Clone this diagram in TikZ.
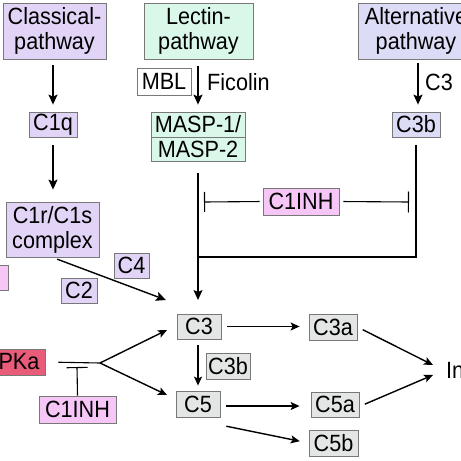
\documentclass[tikz,border=0pt]{standalone}
\usepackage{fontspec}
\setmainfont[FakeStretch=0.92]{Liberation Sans}
\usetikzlibrary{arrows.meta}
\definecolor{lav}{RGB}{226,212,246}
\definecolor{lgreen}{RGB}{218,248,234}
\definecolor{lblue}{RGB}{220,220,246}
\definecolor{lgray}{RGB}{228,230,230}
\definecolor{lpink}{RGB}{246,198,246}
\definecolor{pka}{RGB}{232,92,122}
\definecolor{bord}{RGB}{120,120,120}
\tikzset{
  box/.style={draw=bord, line width=0.8pt, inner sep=0pt, font=\fontsize{23.5}{25}\selectfont, align=center},
  lab/.style={inner sep=0pt, font=\fontsize{23.5}{25}\selectfont},
  arr/.style={line width=1.4pt, -{Stealth[length=10pt,width=9pt,inset=2pt]}},
  arrs/.style={line width=1.4pt, -{Stealth[length=9pt,width=8pt,inset=2pt]}},
  pl/.style={line width=1.1pt},
}
\begin{document}
\begin{tikzpicture}[x=1pt,y=-1pt]
\useasboundingbox (0,0) rectangle (461,461);
\clip (0,0) rectangle (461,461);
\fill[white] (0,0) rectangle (461,461);
% top pathways
\node[box, fill=lav, minimum width=103pt, minimum height=56pt] (classical) at (54.5,31) {Classical-\\pathway};
\node[box, fill=lgreen, minimum width=109pt, minimum height=56pt] (lectin) at (198.5,31) {Lectin-\\pathway};
\node[box, fill=lblue, minimum width=116pt, minimum height=56pt] (alt) at (416,31) {Alternative\\pathway};
\node[box, fill=white, minimum width=54pt, minimum height=27pt] (mbl) at (164,81.5) {MBL};
\node[lab, anchor=west] (ficolin) at (207,82) {Ficolin};
\node[lab, anchor=west] (c3lab) at (425,82) {C3};
\node[box, fill=lav, minimum width=48pt, minimum height=25pt] (c1q) at (53,124.5) {C1q};
\node[box, fill=lgreen, minimum width=94pt, minimum height=25pt] (masp1) at (198,124.5) {MASP-1/};
\node[box, fill=lgreen, minimum width=94pt, minimum height=24pt] (masp2) at (198,149) {MASP-2};
\node[box, fill=lblue, minimum width=48pt, minimum height=25pt] (c3bA) at (416,124.5) {C3b};
\node[box, fill=lav, minimum width=93pt, minimum height=55pt] (c1r) at (52.5,229.5) {C1r/C1s\\complex};
\node[box, fill=lpink, minimum width=58pt, minimum height=25pt] (cut) at (-21,277.5) {};
\node[box, fill=lpink, minimum width=76pt, minimum height=27pt] (c1inhA) at (301,201.5) {C1INH};
\node[box, fill=lav, minimum width=35pt, minimum height=25pt] (c4) at (131.5,265.5) {C4};
\node[box, fill=lav, minimum width=36pt, minimum height=25pt] (c2) at (79,290.5) {C2};
% lower cascade
\node[box, fill=lgray, minimum width=44pt, minimum height=25pt] (c3) at (199,326.5) {C3};
\node[box, fill=lgray, minimum width=44pt, minimum height=26pt] (c3bB) at (228,366) {C3b};
\node[box, fill=lgray, minimum width=44pt, minimum height=26pt] (c5) at (198,404) {C5};
\node[box, fill=pka, minimum width=52pt, minimum height=26pt] (pka) at (19,362) {PKa};
\node[box, fill=lpink, minimum width=77pt, minimum height=27pt] (c1inhB) at (77.5,409.5) {C1INH};
\node[box, fill=lgray, minimum width=48pt, minimum height=26pt] (c3a) at (333,327) {C3a};
\node[box, fill=lgray, minimum width=48pt, minimum height=25pt] (c5a) at (335,404.5) {C5a};
\node[box, fill=lgray, minimum width=49pt, minimum height=26pt] (c5b) at (333.5,443) {C5b};
\node[lab, anchor=west] (infl) at (446,370) {In};
% coordinates
\coordinate (j1) at (166,300);
\coordinate (j2) at (198,300);
\coordinate (junc) at (198,257);
\coordinate (bar1) at (204,202);
\coordinate (bar2) at (409,202);
\coordinate (fork) at (100,363);
\coordinate (bar3) at (77,367);
\coordinate (t3) at (167,330);
\coordinate (t5) at (167,395);
\coordinate (tin1) at (433,365);
\coordinate (tin2) at (433,375);
% connectors
\draw[arr, shorten <=6pt, shorten >=7pt] (classical.south -| c1q.north) -- (c1q.north);
\draw[arr, shorten <=8pt, shorten >=12pt] (c1q.south) -- (c1q.south |- c1r.north);
\draw[arr, shorten <=7pt, shorten >=7pt] (lectin.south -| masp1.north) -- (masp1.north);
\draw[arr, shorten <=4pt, shorten >=7pt] ([xshift=2pt]alt.south) -- ([xshift=2pt]c3bA.north);
\draw[arr, shorten <=5pt] (c1r.south) -- (j1);
\draw[arr, shorten <=12pt] (masp2.south) -- (j2);
\draw[pl, shorten <=8pt] (c3bA.south) |- (junc);
\draw[pl, shorten <=3pt, -{Bar[width=20pt]}] (c1inhA.west) -- (bar1);
\draw[pl, shorten <=4pt, -{Bar[width=21pt]}] (c1inhA.east) -- (bar2);
\draw[pl, shorten <=13pt] (pka.east) -- (fork);
\draw[arrs] (fork) -- (t3);
\draw[arrs] (fork) -- (t5);
\draw[pl, -{Bar[width=21pt]}] (c1inhB.north) -- (bar3);
\draw[arrs, shorten <=6pt, shorten >=5pt] (c3.south -| c5.north) -- (c5.north);
\draw[arrs, shorten <=6pt, shorten >=9pt] (c3.east) -- (c3.east -| c3a.west);
\draw[arrs, shorten <=6pt, shorten >=11pt] ([yshift=-2pt]c5.east) -- ([yshift=-2pt]c5.east -| c5a.west);
\draw[arrs, shorten <=6pt, shorten >=9pt] ([yshift=-21pt]c5.east) -- (c5b.west);
\draw[arrs, shorten <=6pt] (c3a.east) -- (tin1);
\draw[arrs, shorten <=6pt] ([yshift=-2pt]c5a.east) -- (tin2);
\end{tikzpicture}
\end{document}
